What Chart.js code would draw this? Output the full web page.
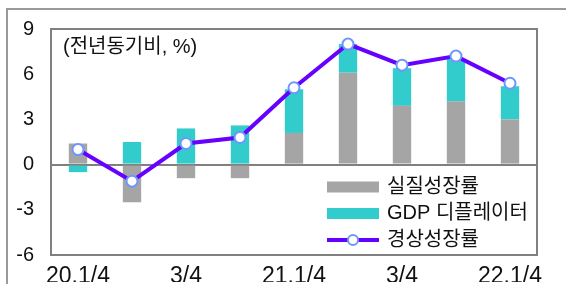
<!DOCTYPE html>
<html>
<head>
<meta charset="utf-8">
<script src="https://cdn.jsdelivr.net/npm/chart.js@4/dist/chart.umd.min.js"></script>
<style>
html,body{margin:0;padding:0;background:#fff;}
#wrap{position:relative;width:566px;height:284px;}
</style>
</head>
<body>
<div id="wrap"><canvas id="c" width="566" height="284"></canvas></div>
<script>
const categories = ['20.1/4','2/4','3/4','4/4','21.1/4','2/4','3/4','4/4','22.1/4'];
const realGrowth = [1.4, -2.5, -0.9, -0.9, 2.1, 6.1, 3.9, 4.2, 3.0];
const gdpDeflator = [-0.5, 1.5, 2.4, 2.6, 2.9, 1.9, 2.5, 2.8, 2.2];
const nominalGrowth = [1.0, -1.1, 1.4, 1.8, 5.1, 8.0, 6.6, 7.2, 5.4];
const yTicks = [-6, -3, 0, 3, 6, 9];
const unitNote = '(전년동기비, %)';

const FONT = "'Liberation Sans', Arial, 'Noto Sans CJK KR', sans-serif";
const KFONT = "'Liberation Sans', Arial, 'Noto Sans CJK KR', sans-serif";

const framePlugin = {
  id: 'frame',
  beforeDraw(chart) {
    const ctx = chart.ctx;
    ctx.save();
    ctx.fillStyle = '#fff';
    ctx.fillRect(0, 0, chart.width, chart.height);
    ctx.strokeStyle = '#9a9a9a';
    ctx.lineWidth = 2;
    ctx.beginPath();
    ctx.moveTo(7, chart.height);
    ctx.lineTo(7, 9);
    ctx.lineTo(chart.width, 9);
    ctx.stroke();
    ctx.restore();
  },
  afterDraw(chart) {
    const ctx = chart.ctx;
    const a = chart.chartArea;
    ctx.save();
    ctx.strokeStyle = '#808080';
    ctx.lineWidth = 2;
    ctx.strokeRect(a.left, a.top, a.right - a.left, a.bottom - a.top);
    // unit note
    ctx.fillStyle = '#111';
    ctx.font = '20px ' + KFONT;
    ctx.textBaseline = 'middle';
    ctx.textAlign = 'left';
    ctx.fillText(unitNote, a.left + 12, a.top + 18);
    // legend
    const ds = chart.data.datasets;
    const items = [ds[1], ds[2], ds[0]];
    const x0 = a.left + 276, sw = 52, tx = x0 + 60;
    let y = a.top + 158;
    items.forEach((d) => {
      if (d.type === 'line') {
        ctx.strokeStyle = d.borderColor;
        ctx.lineWidth = 4;
        ctx.beginPath();
        ctx.moveTo(x0, y);
        ctx.lineTo(x0 + sw, y);
        ctx.stroke();
        ctx.beginPath();
        ctx.arc(x0 + sw / 2, y, 5, 0, Math.PI * 2);
        ctx.fillStyle = '#fff';
        ctx.fill();
        ctx.lineWidth = 2;
        ctx.strokeStyle = d.pointBorderColor;
        ctx.stroke();
      } else {
        ctx.fillStyle = d.backgroundColor;
        ctx.fillRect(x0, y - 5.5, sw, 11);
      }
      ctx.fillStyle = '#111';
      ctx.font = '20px ' + KFONT;
      ctx.textBaseline = 'middle';
      ctx.fillText(d.label, tx, y);
      y += 26.5;
    });
    ctx.restore();
  }
};

new Chart(document.getElementById('c'), {
  data: {
    labels: categories,
    datasets: [
      {
        type: 'line', label: '경상성장률', data: nominalGrowth, order: 0,
        borderColor: '#6600ff', borderWidth: 4, tension: 0,
        pointRadius: 5.5, pointBackgroundColor: '#ffffff',
        pointBorderColor: '#6f95ff', pointBorderWidth: 2
      },
      {
        type: 'bar', label: '실질성장률', data: realGrowth, order: 1,
        backgroundColor: '#a5a5a5', stack: 's',
        barPercentage: 0.34, categoryPercentage: 1
      },
      {
        type: 'bar', label: 'GDP 디플레이터', data: gdpDeflator, order: 2,
        backgroundColor: '#33cccc', stack: 's',
        barPercentage: 0.34, categoryPercentage: 1
      }
    ]
  },
  options: {
    responsive: false,
    animation: false,
    layout: { padding: { left: 0, top: 25, right: 29, bottom: 0 } },
    plugins: { legend: { display: false }, tooltip: { enabled: false } },
    scales: {
      x: {
        stacked: true,
        offset: true,
        grid: { display: false, drawTicks: false },
        border: { display: false },
        afterFit(s) { s.height = 27; },
        ticks: {
          autoSkip: false, maxRotation: 0, padding: 8,
          color: '#111', font: { size: 23, family: FONT },
          callback: (v, i) => (i % 2 === 0 ? categories[i] : '')
        }
      },
      y: {
        stacked: true,
        min: -6, max: 9,
        afterFit(s) { s.width = 51; },
        afterBuildTicks(s) { s.ticks = yTicks.map(v => ({ value: v })); },
        grid: {
          drawTicks: false,
          lineWidth: 2,
          color: (c) => (c.tick && c.tick.value === 0 ? '#808080' : 'rgba(0,0,0,0)')
        },
        border: { display: false },
        ticks: { padding: 17, color: '#111', font: { size: 20, family: FONT } }
      }
    }
  },
  plugins: [framePlugin]
});
</script>
</body>
</html>
